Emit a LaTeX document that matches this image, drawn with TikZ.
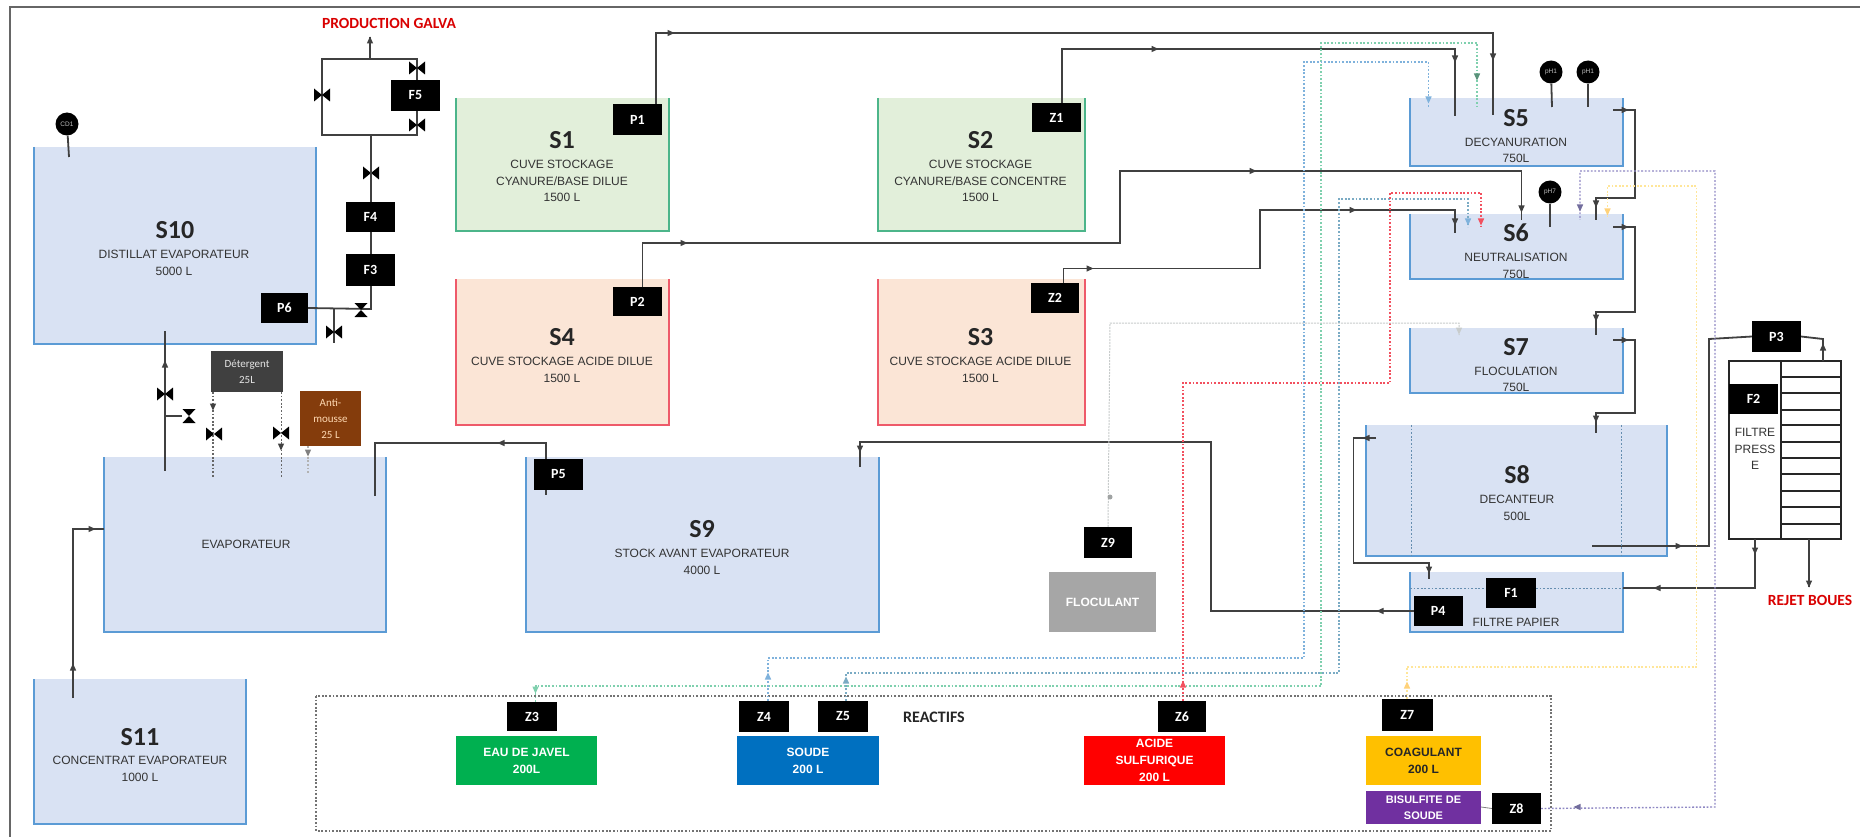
\documentclass[tikz,border=0pt]{standalone}
\usepackage{fontspec}
\setmainfont{Liberation Sans}
\newfontfamily\calib{Carlito}
\pgfdeclarelayer{bgl}
\pgfdeclarelayer{topl}
\pgfsetlayers{bgl,main,topl}
\definecolor{tblue}{HTML}{D9E2F3}
\definecolor{tgreen}{HTML}{E2EFDA}
\definecolor{tred}{HTML}{FBE5D6}
\definecolor{bblue}{HTML}{5B9BD5}
\definecolor{bgreen}{HTML}{4CB58A}
\definecolor{bred}{HTML}{EE5A6A}
\definecolor{pipec}{HTML}{404040}
\definecolor{dgreen}{HTML}{7FD0AE}
\definecolor{dblue}{HTML}{7FB2DC}
\definecolor{dteal}{HTML}{7AABC4}
\definecolor{dred}{HTML}{F2505F}
\definecolor{dyellow}{HTML}{FFE699}
\definecolor{dpurple}{HTML}{8F88C4}
\definecolor{dgray}{HTML}{C8CCCC}
\tikzset{
  x=1pt,y=-1pt,
  pipe/.style={draw=pipec,line width=1.8pt},
  dots/.style={line width=1.4pt,dash pattern=on 1.8pt off 1.8pt},
  bx/.style={inner sep=0pt,outer sep=0pt,anchor=north west,align=center},
  blk/.style={bx,fill=black,text=white,font=\calib\bfseries\fontsize{14}{14}\selectfont},
  reag/.style={bx,text=white,font=\bfseries\fontsize{12}{17}\selectfont},
  small reag/.style={font=\calib\fontsize{11}{16}\selectfont},
  ttitle/.style={inner sep=0pt,text=black!85,font=\calib\bfseries\fontsize{26}{26}\selectfont},
  tline/.style={inner sep=0pt,text=black!80,font=\fontsize{12}{12}\selectfont},
  red label/.style={inner sep=0pt,text=red!85!black,font=\calib\bfseries\fontsize{15.5}{15.5}\selectfont},
  probe/.style={circle,fill=black,inner sep=0pt,minimum size=23pt,text=white!75!black,font=\fontsize{6.5}{6.5}\selectfont},
  rule/.style={draw=black!85,line width=1.3pt}
}
% generic positioned box: style, name, x1,y1,x2,y2, text
\newcommand{\pbox}[7][]{%
  \pgfmathsetmacro{\bw}{#5-#3}\pgfmathsetmacro{\bh}{#6-#4}%
  \node[#1,minimum width=\bw pt,minimum height=\bh pt] (#2) at (#3,#4) {#7};}
% open tank: name,x1,y1,x2,y2,fill,border
\newcommand{\tank}[7]{%
  \begin{pgfonlayer}{bgl}
  \pgfmathsetmacro{\bw}{#4-#2}\pgfmathsetmacro{\bh}{#5-#3}%
  \node[bx,fill=#6,minimum width=\bw pt,minimum height=\bh pt] (#1) at (#2,#3) {};
  \draw[#7,line width=1.5pt] (#1.north west) -- (#1.south west) -- (#1.south east) -- (#1.north east);
  \end{pgfonlayer}}
\newcommand{\blk}[6]{\begin{pgfonlayer}{topl}\pbox[blk]{#1}{#2}{#3}{#4}{#5}{#6}\end{pgfonlayer}}
\newcommand{\tp}[4][pipec]{\fill[#1,shift={(#2,#3)},rotate=#4] (-3.5,-3.2) -- (3.5,0) -- (-3.5,3.2) -- cycle;}
\newcommand{\valveV}[2]{\fill[black,shift={(#1,#2)}] (-8,-6.5) -- (8,6.5) -- (8,-6.5) -- (-8,6.5) -- cycle;}
\newcommand{\valveH}[2]{\fill[black,shift={(#1,#2)}] (-6.5,-7) -- (6.5,-7) -- (-6.5,7) -- (6.5,7) -- cycle;}
\begin{document}
\begin{tikzpicture}
\useasboundingbox (0,0) rectangle (1860,837);
\begin{pgfonlayer}{bgl}
\fill[white] (0,0) rectangle (1860,837);
\draw[black!60,line width=2.4pt] (10,837) -- (10,7) -- (1860,7);
\end{pgfonlayer}
% ---------- tanks
\tank{S10}{34}{147}{316}{344}{tblue}{bblue}
\tank{S1}{456}{98}{669}{231}{tgreen}{bgreen}
\tank{S2}{878}{98}{1085}{231}{tgreen}{bgreen}
\tank{S4}{456}{279}{669}{425}{tred}{bred}
\tank{S3}{878}{279}{1085}{425}{tred}{bred}
\tank{EV}{104}{457}{386}{632}{tblue}{bblue}
\tank{S9}{526}{457}{879}{632}{tblue}{bblue}
\tank{S11}{34}{679}{246}{824}{tblue}{bblue}
\tank{S5}{1410}{98}{1623}{166}{tblue}{bblue}
\tank{S6}{1410}{214}{1623}{279}{tblue}{bblue}
\tank{S7}{1410}{328}{1623}{393}{tblue}{bblue}
\tank{S8}{1366}{425}{1667}{556}{tblue}{bblue}
\tank{FP}{1410}{572}{1623}{632}{tblue}{bblue}
% ---------- black tags
\blk{F5}{391}{80}{440}{111}{F5}
\blk{F4}{346}{202}{395}{232}{F4}
\blk{F3}{346}{254}{395}{286}{F3}
\blk{P6}{261}{293}{308}{323}{P6}
\blk{P1}{613}{104}{662}{135}{P1}
\blk{P2}{613}{287}{662}{316}{P2}
\blk{Z1}{1032}{103}{1081}{132}{Z1}
\blk{Z2}{1031}{283}{1079}{313}{Z2}
\blk{P5}{534}{459}{583}{490}{P5}
\blk{P3}{1752}{321}{1801}{352}{P3}
\blk{F2}{1729}{384}{1778}{414}{F2}
\blk{F1}{1486}{578}{1536}{608}{F1}
\blk{P4}{1414}{596}{1462.5}{626}{P4}
\blk{Z9}{1084}{527}{1132}{558}{Z9}
\blk{Z3}{507}{702}{557}{731}{Z3}
\blk{Z4}{739}{701}{789}{732}{Z4}
\blk{Z5}{818}{701}{868}{732}{Z5}
\blk{Z6}{1158}{701}{1206}{732}{Z6}
\blk{Z7}{1381.5}{699}{1433}{731}{Z7}
\blk{Z8}{1492}{793}{1541}{824}{Z8}
% ---------- reagents etc.
\begin{pgfonlayer}{topl}
\pbox[reag,small reag,fill=black!75,text=white!90!black]{DET}{211}{351}{283}{392}{Détergent\\25L}
\pbox[reag,small reag,fill={rgb,255:red,132;green,60;blue,12},text=orange!30]{ANT}{300}{391}{361}{446}{Anti-\\mousse\\25 L}
\pbox[reag,fill={rgb,255:red,0;green,176;blue,80}]{JAV}{456}{736}{597}{785}{EAU DE JAVEL\\200L}
\pbox[reag,fill={rgb,255:red,0;green,112;blue,192}]{SOU}{737}{736}{879}{785}{SOUDE\\200 L}
\pbox[reag,fill=red]{ACI}{1084}{736}{1225}{785}{ACIDE\\SULFURIQUE\\200 L}
\pbox[reag,fill={rgb,255:red,255;green,192;blue,0},text=black!85]{COA}{1366}{736}{1481}{785}{COAGULANT\\200 L}
\pbox[reag,fill={rgb,255:red,112;green,48;blue,160},font=\bfseries\fontsize{11}{16}\selectfont]{BIS}{1366}{791}{1481}{824}{BISULFITE DE\\SOUDE}
\pbox[reag,fill=black!35]{FLO}{1049}{572}{1156}{632}{FLOCULANT}
\end{pgfonlayer}
% reactifs frame
\coordinate (ra) at (316,696); \coordinate (rb) at (1551,831);
\draw[black!55,dots] (ra) rectangle (rb);
% filter press
\begin{pgfonlayer}{bgl}
\node[bx,fill=white,draw=black!85,line width=1.5pt,minimum width=52pt,minimum height=178pt] (PL) at (1729,361) {};
\node[bx,fill=white,draw=black!85,line width=1.5pt,minimum width=60pt,minimum height=178pt] (PR) at (1781,361) {};
\foreach \yy in {377,393,410,425,442,458,474,491,507,524}{\draw[rule] (PR.west |- 0,\yy) -- (PR.east |- 0,\yy);}
\end{pgfonlayer}
% probes
\node[probe] (CD1) at (67,124) {CD1};
\node[probe] (PH1) at (1551,72) {pH1};
\node[probe] (PH2) at (1588,72) {pH1};
\node[probe] (PH7) at (1550,192) {pH7};
\coordinate (CD1e) at (69,157); \coordinate (PH1e) at (1552,107); \coordinate (PH2e) at (1588,107); \coordinate (PH7e) at (1550,227);
\draw[pipe] (CD1) -- (CD1e);
\draw[pipe] (PH1) -- (PH1e);
\draw[pipe] (PH2) -- (PH2e);
\draw[pipe] (PH7) -- (PH7e);
% labels
\node[red label] (PG) at (389,23) {PRODUCTION GALVA};
\node[red label] (RB) at (1810,600) {REJET BOUES};
\node[inner sep=0pt,text=black!85,font=\calib\bfseries\fontsize{16}{16}\selectfont] (RE) at (934,717) {REACTIFS};
\node[ttitle] (tS10) at (175,230) {S10};
\node[tline] (aS10) at (174,254) {DISTILLAT EVAPORATEUR};
\node[tline] (bS10) at (174,271) {5000 L};
\node[ttitle] (tS1) at (562,140) {S1};
\node[tline] (aS1) at (562,164) {CUVE STOCKAGE};
\node[tline] (bS1) at (562,181) {CYANURE/BASE DILUE};
\node[tline] (cS1) at (562,197) {1500 L};
\node[ttitle] (tS2) at (980.5,140) {S2};
\node[tline] (aS2) at (980.5,164) {CUVE STOCKAGE};
\node[tline] (bS2) at (980.5,181) {CYANURE/BASE CONCENTRE};
\node[tline] (cS2) at (980.5,197) {1500 L};
\node[ttitle] (tS4) at (562,337) {S4};
\node[tline] (aS4) at (562,361) {CUVE STOCKAGE ACIDE DILUE};
\node[tline] (bS4) at (562,378) {1500 L};
\node[ttitle] (tS3) at (980.5,337) {S3};
\node[tline] (aS3) at (980.5,361) {CUVE STOCKAGE ACIDE DILUE};
\node[tline] (bS3) at (980.5,378) {1500 L};
\node[tline] (tEV) at (246,544) {EVAPORATEUR};
\node[ttitle] (tS9) at (702,529) {S9};
\node[tline] (aS9) at (702,553) {STOCK AVANT EVAPORATEUR};
\node[tline] (bS9) at (702,570) {4000 L};
\node[ttitle] (tS11) at (140,737) {S11};
\node[tline] (aS11) at (140,760) {CONCENTRAT EVAPORATEUR};
\node[tline] (bS11) at (140,777) {1000 L};
\node[ttitle] (tS5) at (1516,118) {S5};
\node[tline] (aS5) at (1516,142) {DECYANURATION};
\node[tline] (bS5) at (1516,158) {750L};
\node[ttitle] (tS6) at (1516,233) {S6};
\node[tline] (aS6) at (1516,257) {NEUTRALISATION};
\node[tline] (bS6) at (1516,274) {750L};
\node[ttitle] (tS7) at (1516,347) {S7};
\node[tline] (aS7) at (1516,371) {FLOCULATION};
\node[tline] (bS7) at (1516,387) {750L};
\node[ttitle] (tS8) at (1517,475) {S8};
\node[tline] (aS8) at (1517,499) {DECANTEUR};
\node[tline] (bS8) at (1517,516) {500L};
\node[tline] (tFP) at (1516,622) {FILTRE PAPIER};
\node[tline,align=center,font=\fontsize{12}{16.5}\selectfont] (tF2) at (1755,449) {FILTRE\\PRESS\\E};
% ---------- black pipes
\coordinate (gal) at (370,37);
\coordinate (lb) at (371,135);
\draw[pipe] (322,59) rectangle (417,135);
\draw[pipe] (370,59) -- (gal); \tp{370}{40}{90}
\valveV{417}{68} \valveV{417}{125} \valveV{322}{95} \valveV{371}{173}
\draw[pipe] (P6.east) -- (371,309) -- (lb);
\valveH{361}{310}
\coordinate (dr) at (334,343);
\draw[pipe] (334,309) -- (dr); \valveV{334}{332}
\coordinate (s10o) at (165,331); \coordinate (evi) at (165,471);
\draw[pipe] (s10o) -- (evi); \tp{165}{364}{90}
\valveV{165}{394}
\draw[pipe] (165,416) -- (182,416); \valveH{189}{416}
\coordinate (s11o) at (73,698);
\draw[pipe] (s11o) -- (73,529) -- (EV.west |- 0,529); \tp{73}{667}{90} \tp{92}{529}{0}
\coordinate (evo) at (375,496); \coordinate (p5b) at (546,495);
\draw[pipe] (evo) -- (375,443) -- (546,443) -- (p5b); \tp{501}{443}{180}
\coordinate (s5a) at (1493,115); \coordinate (s5b) at (1455,116);
\draw[pipe] (P1.north -| 656,0) -- (656,33) -- (1493,33) -- (s5a); \tp{671}{33}{0} \tp{1493}{57}{-90}
\draw[pipe] (Z1.north -| 1062,0) -- (1062,49) -- (1455,49) -- (s5b); \tp{1155}{49}{0} \tp{1455}{59}{-90}
\coordinate (s6a) at (1521.5,220); \coordinate (s6b) at (1455,233);
\draw[pipe] (P2.north -| 642.5,0) -- (642.5,243) -- (1120,243) -- (1120,171) -- (1521.5,171) -- (s6a); \tp{684}{243}{0} \tp{1253}{171}{0} \tp{1521.5}{209}{-90}
\draw[pipe] (Z2.north -| 1063.5,0) -- (1063.5,268.5) -- (1260,268.5) -- (1260,210) -- (1455,210) -- (s6b); \tp{1090}{268.5}{0} \tp{1353}{210}{0} \tp{1455}{222}{-90}
% overflow
\coordinate (o5) at (1613,110); \coordinate (i6) at (1596,220);
\draw[pipe] (o5) -- (1635,110) -- (1635,198) -- (1596,198) -- (i6); \tp{1625}{110}{0} \tp{1596}{204}{-90}
\coordinate (o6) at (1613,227); \coordinate (i7) at (1596,335);
\draw[pipe] (o6) -- (1635,227) -- (1635,312) -- (1596,312) -- (i7); \tp{1625}{227}{0} \tp{1596}{318}{-90}
\coordinate (o7) at (1613,340); \coordinate (i8) at (1596,433);
\draw[pipe] (o7) -- (1635,340) -- (1635,413) -- (1596,413) -- (i8); \tp{1625}{340}{0} \tp{1596}{419}{-90}
\coordinate (o8a) at (1376,438); \coordinate (if1) at (1429,579);
\draw[pipe] (o8a) -- (1353.5,438) -- (1353.5,563) -- (1429,563) -- (if1); \tp{1366}{438}{180} \tp{1429}{570}{-90}
\coordinate (o8b) at (1592,546);
\draw[pipe] (o8b) -- (1709,546) -- (1709,339) -- (P3.west); \tp{1679}{546}{0}
\draw[pipe] (P3.east) -- (1823,339) -- (PR.north -| 1823,0); \tp{1823}{347}{90}
\draw[pipe] (PL.south -| 1755,0) -- (1755,588) -- (FP.east |- 0,588); \tp{1755}{551}{-90} \tp{1657}{588}{180}
\coordinate (reb) at (1809,587);
\draw[pipe] (PR.south -| 1809,0) -- (reb); \tp{1809}{584}{-90}
\coordinate (s9i) at (860,467);
\draw[pipe] (P4.west |- 0,611) -- (1211,611) -- (1211,442) -- (860,442) -- (s9i); \tp{1380}{611}{180} \tp{860}{449}{-90}
% ---------- dotted pipes
\coordinate (g5) at (1477,107);
\draw[dgreen,dots] (Z3.north -| 535.5,0) -- (535.5,686) -- (1321,686) -- (1321,43) -- (1477,43) -- (g5); \tp[dgreen]{535.5}{690}{-90} \tp[dgreen!70!black]{1477}{77}{-90}
\coordinate (b5) at (1428.5,108);
\draw[dblue,dots] (Z4.north -| 768,0) -- (768,658) -- (1304,658) -- (1304,62) -- (1428.5,62) -- (b5); \tp[dblue]{768}{676}{90} \tp[dblue]{1428.5}{100}{-90}
\coordinate (b6) at (1468,227);
\draw[dteal,dots] (Z5.north -| 846,0) -- (846,673) -- (1339,673) -- (1339,199) -- (1468,199) -- (b6); \tp[dteal]{846}{680}{90} \tp[dblue]{1468}{222}{-90}
\coordinate (r6) at (1481,227);
\draw[dred,dots] (Z6.north -| 1183,0) -- (1183,383) -- (1390,383) -- (1390,193) -- (1481,193) -- (r6); \tp[dred]{1183}{684}{90} \tp[dred]{1481}{222}{-90}
\coordinate (y6) at (1607.5,217);
\draw[dyellow,dots] (Z7.north -| 1407,0) -- (1407,667) -- (1696.5,667) -- (1696.5,186) -- (1607.5,186) -- (y6); \tp[dyellow!80!orange]{1407}{685}{90} \tp[dyellow!80!orange]{1607.5}{212}{-90}
\coordinate (p6) at (1580,220);
\draw[dpurple,dots] (Z8.east) -- (1715,807) -- (1715,171) -- (1580,171) -- (p6); \tp[dpurple!80!black]{1577}{807}{180} \tp[dpurple!80!black]{1580}{208}{-90}
\draw[black!50,line width=0.8pt] (BIS.east |- 0,807) -- (Z8.west);
\coordinate (g7) at (1459,335);
\draw[dgray,line width=1pt,dash pattern=on 2pt off 1pt] (Z9.north) -- (1110,323) -- (1459,323) -- (g7); \fill[dgray!80!black] (1110,497) circle (2.5); \tp[dgray]{1459}{331}{-90}
% dotted inside S8 / filter
\draw[dblue!80!black,line width=1pt,dash pattern=on 1.8pt off 1.8pt] (1411,425) -- (1411,556) (1621.5,425) -- (1621.5,556);
\draw[dblue!80!black,line width=1pt,dash pattern=on 1.8pt off 1.8pt] (1410,588) -- (F1.west |- 0,588) (F1.east |- 0,588) -- (1623,588);
% dotted from additive boxes
\coordinate (d1) at (213,478); \coordinate (d2) at (281.5,478); \coordinate (d3) at (308,473);
\draw[black!60,dots,line width=1.2pt] (DET.south -| 213,0) -- (d1);
\draw[black!60,dots,line width=1.2pt] (DET.south -| 281.5,0) -- (d2);
\draw[black!30,dots,line width=1.2pt] (ANT.south -| 308,0) -- (d3);
\valveV{214}{434} \valveV{281}{433}
\tp{213}{407}{-90} \tp{281}{447}{-90} \tp[black!50]{308}{453}{-90}
\end{tikzpicture}
\end{document}
